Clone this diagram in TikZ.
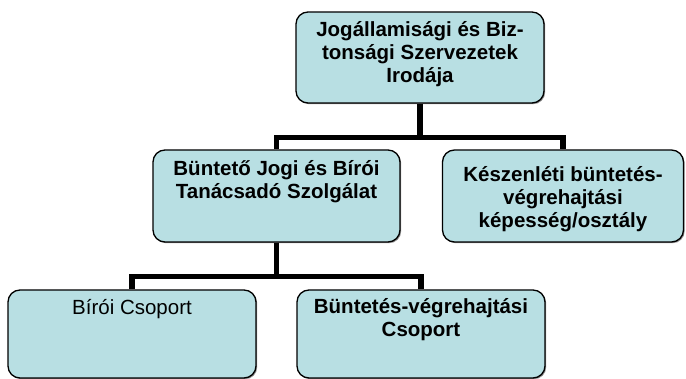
\documentclass[tikz,border=0pt]{standalone}
\usepackage{fontspec}
\setmainfont{Liberation Sans}
\usetikzlibrary{shadows}
\definecolor{boxfill}{RGB}{184,223,227}
\tikzset{
  orgbox/.style={draw=black, line width=1.3pt, fill=boxfill, rounded corners=12pt,
    drop shadow={shadow xshift=1.2pt, shadow yshift=-1.2pt, fill=black!55, opacity=0.8},
    inner sep=0pt},
  lbl/.style={inner sep=0pt, align=center, anchor=north,
    font=\fontsize{20.5}{22.8}\selectfont\bfseries},
  lblr/.style={lbl, font=\fontsize{20.5}{22.8}\selectfont},
  conn/.style={draw=black, line width=5.5pt, line join=miter}
}
\begin{document}
\begin{tikzpicture}[x=1pt,y=-1pt]
\useasboundingbox (0,0) rectangle (686,379);
% boxes
\node[orgbox, minimum width=248pt, minimum height=91pt] (top) at (420,57.5) {};
\node[orgbox, minimum width=247pt, minimum height=92pt] (bjt) at (276.5,196) {};
\node[orgbox, minimum width=241pt, minimum height=92pt] (kesz) at (563,196) {};
\node[orgbox, minimum width=248pt, minimum height=88pt] (biro) at (132,334) {};
\node[orgbox, minimum width=248pt, minimum height=88pt] (bv) at (421,334) {};
% connectors
\draw[conn] (top.south) -- ++(0,34) coordinate (j1) -| (bjt.north);
\draw[conn] (j1) -| (kesz.north);
\draw[conn] (bjt.south) -- ++(0,34) coordinate (j2) -| (biro.north);
\draw[conn] (j2) -| (bv.north);
% texts
\node[lbl] (topt) at ([yshift=-10pt]top.north) {Jogállamisági és Biz-\\tonsági Szervezetek\\Irodája};
\node[lbl] (bjtt) at ([yshift=-11pt]bjt.north) {Büntető Jogi és Bírói\\Tanácsadó Szolgálat};
\node[lbl] (keszt) at ([yshift=-17pt]kesz.north) {Készenléti büntetés-\\végrehajtási\\képesség/osztály};
\node[lblr] (birot) at ([yshift=-10pt]biro.north) {Bírói Csoport};
\node[lbl] (bvt) at ([yshift=-9pt]bv.north) {Büntetés-végrehajtási\\Csoport};
\end{tikzpicture}
\end{document}
